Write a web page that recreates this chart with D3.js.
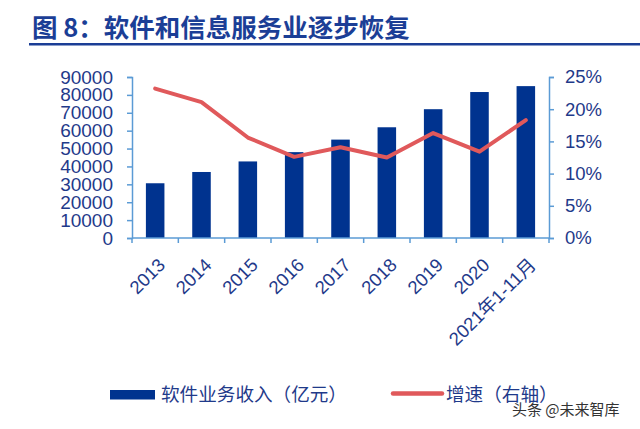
<!doctype html>
<html>
  <head>
    <meta charset="utf-8">
    <script src="https://cdnjs.cloudflare.com/ajax/libs/d3/7.8.5/d3.min.js"></script>
    <style>
      body { margin: 0; background: #fff; }
      svg { display: block; font-family: "Liberation Sans", Arial, sans-serif; }
      .title { font-family: "Noto Sans CJK SC", sans-serif; font-weight: bold; font-size: 25.5px; fill: #1b3e96; }
      .axis path, .axis line { stroke: #5b9bd5; stroke-width: 1.5; }
      .axis text { fill: #1f3a8a; font-size: 19px; }
      .legend text { font-family: "Noto Sans CJK SC", sans-serif; font-size: 18.6px; fill: #1f3a8a; }
      .mark { font-family: "Noto Sans CJK SC", sans-serif; font-size: 15px; fill: #333; }
    </style>
  </head>
  <body>
    <svg width="640" height="429"></svg>
    <script>
      var years = ["2013", "2014", "2015", "2016", "2017", "2018", "2019", "2020", "2021年1-11月"];
      var revenue = [30600, 36900, 42800, 48000, 55000, 61900, 72000, 81600, 84900];
      var growth = [23.2, 21.1, 15.6, 12.6, 14.1, 12.5, 16.3, 13.4, 18.3];
      var leftTicks = [0, 10000, 20000, 30000, 40000, 50000, 60000, 70000, 80000, 90000];
      var rightTicks = [0, 5, 10, 15, 20, 25];

      var svg = d3.select("svg");

      svg.append("text")
        .attr("class", "title")
        .attr("x", 32)
        .attr("y", 37)
        .text("图 8：软件和信息服务业逐步恢复");
      svg.append("rect")
        .attr("x", 29).attr("y", 43)
        .attr("width", 611).attr("height", 2.5)
        .attr("fill", "#1b3e96");

      var plotL = 132, plotR = 549, plotT = 77, plotB = 238;

      var x = d3.scaleBand()
        .domain(years)
        .range([plotL, plotR])
        .paddingInner(0.6)
        .paddingOuter(0.3);
      var yL = d3.scaleLinear().domain([0, 90000]).range([plotB, plotT]);
      var yR = d3.scaleLinear().domain([0, 25]).range([plotB, plotT]);

      // bars
      svg.selectAll("rect.bar")
        .data(revenue)
        .enter()
        .append("rect")
          .attr("class", "bar")
          .attr("x", (d, i) => x(years[i]))
          .attr("y", d => yL(d))
          .attr("width", x.bandwidth())
          .attr("height", d => plotB - yL(d))
          .attr("fill", "#00338f");

      // axes
      svg.append("g")
        .attr("class", "axis")
        .attr("transform", "translate(" + plotL + ",0)")
        .call(d3.axisLeft(yL).tickValues(leftTicks).tickSizeOuter(0).tickSize(5).tickPadding(14).tickFormat(d3.format("d")));

      svg.append("g")
        .attr("class", "axis")
        .attr("transform", "translate(" + plotR + ",0)")
        .call(d3.axisRight(yR).tickValues(rightTicks).tickSizeOuter(0).tickSize(5).tickPadding(11).tickFormat(d => d + "%"))
        .selectAll("text").style("font-size", "18.5px");

      // x axis, ticks sit on the band boundaries
      var bounds = d3.range(years.length + 1).map(i => plotL + i * (plotR - plotL) / years.length);
      var gX = svg.append("g").attr("class", "axis");
      gX.append("line")
        .attr("x1", plotL).attr("x2", plotR)
        .attr("y1", plotB).attr("y2", plotB);
      gX.selectAll("line.tk")
        .data(bounds)
        .enter()
        .append("line")
          .attr("class", "tk")
          .attr("x1", d => d).attr("x2", d => d)
          .attr("y1", plotB).attr("y2", plotB + 5);
      gX.selectAll("text")
        .data(years)
        .enter()
        .append("text")
          .attr("text-anchor", "end")
          .attr("font-family", "'Liberation Sans', 'Noto Sans CJK SC', sans-serif")
          .style("font-size", "18.5px")
          .attr("transform", d => "translate(" + (x(d) + x.bandwidth() / 2 + 2) + "," + (plotB + 19) + ") rotate(-45)")
          .attr("dy", "0.7em")
          .text(d => d);

      // growth line
      var line = d3.line()
        .x((d, i) => x(years[i]) + x.bandwidth() / 2)
        .y(d => yR(d));
      svg.append("path")
        .datum(growth)
        .attr("d", line)
        .attr("fill", "none")
        .attr("stroke", "#e0595b")
        .attr("stroke-width", 4)
        .attr("stroke-linejoin", "round")
        .attr("stroke-linecap", "round");

      // legend
      var lg = svg.append("g").attr("class", "legend");
      lg.append("rect")
        .attr("x", 110).attr("y", 390)
        .attr("width", 45).attr("height", 9.5)
        .attr("fill", "#00338f");
      lg.append("text")
        .attr("x", 161).attr("y", 401)
        .text("软件业务收入（亿元）");
      lg.append("line")
        .attr("x1", 393).attr("x2", 442)
        .attr("y1", 393.5).attr("y2", 393.5)
        .attr("stroke", "#e0595b")
        .attr("stroke-width", 4.5)
        .attr("stroke-linecap", "round");
      lg.append("text")
        .attr("x", 446).attr("y", 401)
        .text("增速（右轴）");

      svg.append("text")
        .attr("class", "mark")
        .attr("x", 512).attr("y", 415)
        .text("头条 @未来智库");
    </script>
  </body>
</html>
